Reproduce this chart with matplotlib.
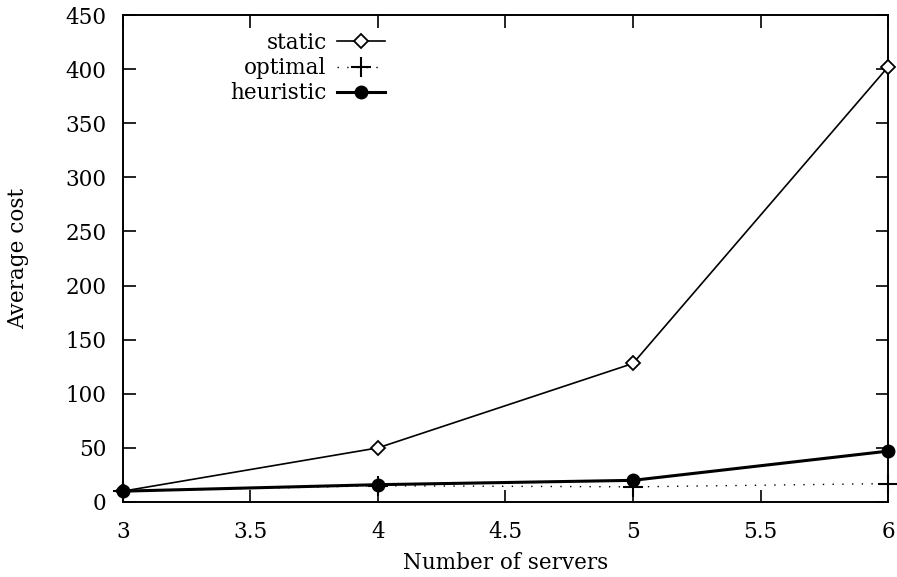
import matplotlib
matplotlib.use("Agg")
import matplotlib.pyplot as plt

servers = [3, 4, 5, 6]
static = [10, 50, 128, 402]
optimal = [10, 15, 14, 17]
heuristic = [10, 16, 20, 47]
xticks = [3, 3.5, 4, 4.5, 5, 5.5, 6]
yticks = [0, 50, 100, 150, 200, 250, 300, 350, 400, 450]

plt.rcParams['font.family'] = ['DejaVu Serif']

fig = plt.figure(figsize=(8.97, 5.77), dpi=100)
ax = fig.add_axes([0.137, 0.130, 0.853, 0.844])

ax.plot(servers, static, color='black', lw=1.2, marker='D', markersize=7,
        markerfacecolor='white', markeredgecolor='black', markeredgewidth=1.3,
        label='static', clip_on=False, zorder=3)
ax.plot(servers, optimal, color='black', lw=1.0, linestyle=(0, (1, 6)),
        marker='+', markersize=15, markeredgewidth=1.5,
        label='optimal', clip_on=False, zorder=3)
ax.plot(servers, heuristic, color='black', lw=2.2, marker='o', markersize=9,
        label='heuristic', clip_on=False, zorder=4)

ax.set_xlim(3, 6)
ax.set_ylim(0, 450)
ax.set_xticks(xticks)
ax.set_xticklabels([f"{t:g}" for t in xticks])
ax.set_yticks(yticks)

ax.tick_params(direction='in', length=9, width=1.2, top=True, right=True,
               labelsize=15.5)
ax.tick_params(axis='y', pad=12)
ax.tick_params(axis='x', pad=14)
for s in ax.spines.values():
    s.set_linewidth(1.4)

ax.set_xlabel('Number of servers', fontsize=15.5, labelpad=6)
ax.set_ylabel('Average cost', fontsize=15.5, labelpad=26)

leg = ax.legend(loc='upper left', bbox_to_anchor=(0.115, 1.005), frameon=False,
                markerfirst=False, fontsize=15.5, handlelength=2.2,
                labelspacing=0.15, handletextpad=0.5)

fig.savefig('out.png', dpi=100)
